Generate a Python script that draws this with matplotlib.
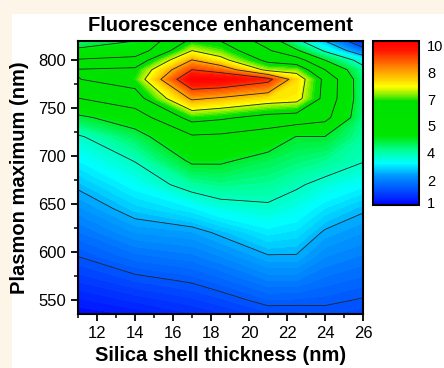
import numpy as np
import matplotlib
matplotlib.use("Agg")
import matplotlib.pyplot as plt
from matplotlib.colors import LinearSegmentedColormap, Normalize
from matplotlib.patches import Rectangle
from matplotlib.cm import ScalarMappable
from matplotlib.ticker import MultipleLocator

plt.rcParams['font.family'] = ['Liberation Sans', 'DejaVu Sans']

# ---- data ----
thickness = [11, 14, 17, 18.5, 21, 22.5, 24, 26]          # nm (x)
plasmon = [535, 550, 570, 595, 620, 645, 670, 695, 720, 740,
           760, 780, 790, 800, 810, 820]                   # nm (y)
# enhancement along plasmon axis, one list per shell thickness
enh_t11 = [1.13, 1.32, 1.58, 1.90, 2.22, 2.54, 2.87, 3.25, 3.62, 4.45, 5.48, 6.38, 6.45, 5.58, 4.80, 4.05]
enh_t14 = [1.25, 1.49, 1.80, 2.19, 2.58, 2.96, 3.34, 3.72, 4.32, 5.01, 6.03, 6.75, 6.55, 5.85, 4.90, 4.60]
enh_t17 = [1.44, 1.65, 1.94, 2.31, 2.67, 3.22, 3.92, 4.71, 5.38, 6.70, 8.32, 9.95, 9.10, 8.23, 7.30, 6.60]
enh_t185 = [1.54, 1.77, 2.08, 2.46, 2.86, 3.46, 4.07, 4.69, 5.32, 6.53, 8.11, 9.90, 8.75, 7.54, 6.90, 6.40]
enh_t21 = [1.75, 2.01, 2.35, 2.77, 3.18, 3.60, 3.99, 4.37, 5.01, 6.13, 7.71, 9.35, 7.08, 6.20, 5.60, 5.10]
enh_t225 = [1.75, 2.00, 2.35, 2.77, 3.10, 3.43, 3.77, 4.19, 4.58, 6.03, 7.58, 7.78, 7.00, 5.90, 4.70, 3.90]
enh_t24 = [1.80, 1.97, 2.19, 2.47, 2.75, 3.13, 3.54, 4.03, 4.58, 5.75, 6.15, 6.20, 5.50, 4.60, 3.60, 2.80]
enh_t26 = [1.73, 1.88, 2.08, 2.33, 2.58, 2.85, 3.30, 3.73, 3.95, 4.05, 4.10, 4.07, 3.95, 3.40, 2.20, 1.30]

line_levels = [1.9, 2.8, 3.7, 4.6, 5.5, 6.4, 7.3, 8.2, 9.1]
cbar_tick_pos = [1.14, 2.38, 3.88, 5.34, 6.81, 8.25, 9.73]
cbar_tick_labels = ['1', '2', '4', '5', '7', '8', '10']
x_ticks = [12, 14, 16, 18, 20, 22, 24, 26]
y_ticks = [550, 600, 650, 700, 750, 800]

Z = np.column_stack([enh_t11, enh_t14, enh_t17, enh_t185,
                     enh_t21, enh_t225, enh_t24, enh_t26])
X, Y = np.meshgrid(thickness, plasmon)

# ---- colormap (Origin-like rainbow) ----
nodes = [(1.0, '#0000FF'), (1.5, '#0032FF'), (2.6, '#0096FF'), (3.3, '#00FFFF'),
         (4.0, '#00FF96'), (4.8, '#00E600'), (6.7, '#00E100'), (7.1, '#96F000'),
         (7.5, '#FFFF00'), (8.5, '#FF8C00'), (9.5, '#FF1400'), (10.0, '#FF0000')]
cmap = LinearSegmentedColormap.from_list(
    'orig_rainbow', [((v - 1) / 9.0, c) for v, c in nodes])
norm = Normalize(vmin=1, vmax=10)

fig = plt.figure(figsize=(4.44, 3.68), dpi=100)
fig.patch.set_facecolor('#FDF5E8')
fig.patches.append(Rectangle((12 / 444, 0), 1, (368 - 14) / 368,
                             transform=fig.transFigure, facecolor='white',
                             edgecolor='none', zorder=-10))

ax = fig.add_axes([78 / 444, (368 - 314) / 368, 285 / 444, 273 / 368])
fill_levels = np.linspace(1, 10, 81)
ax.contourf(X, Y, Z, levels=fill_levels, cmap=cmap, norm=norm, extend='both')
ax.contour(X, Y, Z, levels=line_levels, colors='#222222', linewidths=0.6)

ax.set_xlim(11, 26)
ax.set_ylim(535, 820)
ax.set_xticks(x_ticks)
ax.set_yticks(y_ticks)
ax.xaxis.set_minor_locator(MultipleLocator(1))
ax.yaxis.set_minor_locator(MultipleLocator(25))
ax.tick_params(which='major', direction='out', length=5, width=1.3,
               labelsize=12, pad=3.5)
ax.tick_params(which='minor', direction='out', length=3, width=1.1)
ax.tick_params(top=False, right=False, which='both')
for s in ax.spines.values():
    s.set_linewidth(1.5)

ax.set_title('Fluorescence enhancement', fontsize=14.5, fontweight='bold', pad=7)
ax.set_xlabel('Silica shell thickness (nm)', fontsize=14.5, fontweight='bold', labelpad=4)
ax.set_ylabel('Plasmon maximum (nm)', fontsize=14.5, fontweight='bold', labelpad=7)

cax = fig.add_axes([373.3 / 444, (368 - 205.3) / 368, 45.4 / 444, 164.6 / 368])
sm = ScalarMappable(norm=norm, cmap=cmap)
cb = fig.colorbar(sm, cax=cax)
cb.set_ticks(cbar_tick_pos)
cb.set_ticklabels(cbar_tick_labels)
cb.ax.tick_params(length=0, labelsize=10.5, pad=6)
cb.outline.set_linewidth(1.5)

fig.savefig('out.png', dpi=100, facecolor=fig.get_facecolor())
